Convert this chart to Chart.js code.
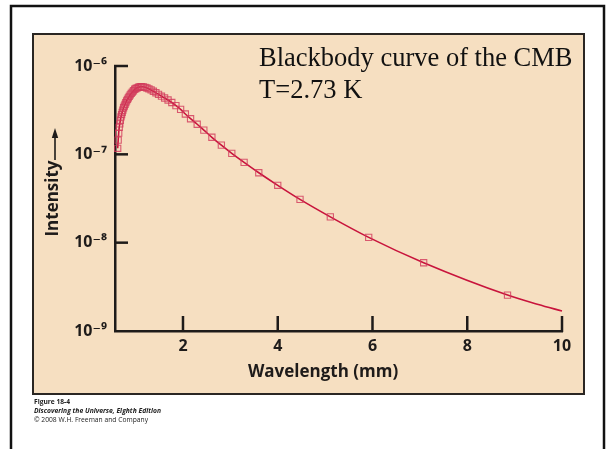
<!DOCTYPE html>
<html><head><meta charset="utf-8">
<script src="https://cdn.jsdelivr.net/npm/chart.js@4.4.1/dist/chart.umd.min.js"></script>
<style>html,body{margin:0;padding:0;background:#fff;}canvas{display:block;}</style>
</head><body>
<canvas id="c" width="608" height="449"></canvas>
<script>
// Wavelength (mm) of each measured point (square markers)
const markerWavelength = [
  0.622, 0.632, 0.643, 0.654, 0.666, 0.678, 0.691, 0.704, 0.717, 0.731,
  0.746, 0.761, 0.777, 0.793, 0.810, 0.828, 0.847, 0.866, 0.887, 0.908,
  0.931, 0.955, 0.980, 1.006, 1.034, 1.063, 1.094, 1.127, 1.162, 1.199,
  1.239, 1.281, 1.327, 1.375, 1.428, 1.484, 1.546, 1.612, 1.685, 1.764,
  1.851, 1.95, 2.05, 2.16, 2.30, 2.44, 2.61, 2.81, 3.03, 3.29,
  3.60, 4.00, 4.47, 5.11, 5.92, 7.08, 8.85
];
// Intensity read at each marker
const markerIntensity = [
  1.17e-7, 1.45e-7, 1.74e-7, 2.02e-7, 2.21e-7, 2.43e-7, 2.65e-7, 2.82e-7, 2.99e-7, 3.17e-7,
  3.37e-7, 3.52e-7, 3.68e-7, 3.85e-7, 4.03e-7, 4.19e-7, 4.36e-7, 4.53e-7, 4.72e-7, 4.90e-7,
  5.07e-7, 5.25e-7, 5.45e-7, 5.56e-7, 5.66e-7, 5.75e-7, 5.82e-7, 5.83e-7, 5.81e-7, 5.74e-7,
  5.64e-7, 5.51e-7, 5.36e-7, 5.18e-7, 4.98e-7, 4.78e-7, 4.55e-7, 4.34e-7, 4.12e-7, 3.86e-7,
  3.56e-7, 3.23e-7, 2.86e-7, 2.53e-7, 2.19e-7, 1.88e-7, 1.56e-7, 1.27e-7, 1.026e-7, 8.11e-8,
  6.19e-8, 4.46e-8, 3.09e-8, 1.96e-8, 1.148e-8, 5.92e-9, 2.55e-9
];
// Continuation of the fitted curve beyond the last marker
const tailWavelength = [9.5, 10];
const tailIntensity = [2.0e-9, 1.68e-9];

const xTickValues = [2, 4, 6, 8, 10];
const yTickValues = [1e-9, 1e-8, 1e-7, 1e-6];
const yTickLabels = ['10\u207B\u2079', '10\u207B\u2078', '10\u207B\u2077', '10\u207B\u2076'];

const titleLines = ['Blackbody curve of the CMB', 'T=2.73 K'];
const captionLines = ['Figure 18-4', 'Discovering the Universe, Eighth Edition', '\u00A9 2008 W.H. Freeman and Company'];

const markerPoints = markerWavelength.map((x, i) => ({x: x, y: markerIntensity[i]}));
const linePoints = markerWavelength.concat(tailWavelength).map((x, i) => ({x: x, y: markerIntensity.concat(tailIntensity)[i]}));

const INK = '#1e1b1a';
const SANS = "'Open Sans', 'DejaVu Sans', sans-serif";

const decor = {
  id: 'decor',
  beforeDraw(chart) {
    const ctx = chart.ctx;
    ctx.save();
    ctx.fillStyle = '#ffffff';
    ctx.fillRect(0, 0, chart.width, chart.height);
    ctx.strokeStyle = '#111111';
    ctx.lineWidth = 2.5;
    ctx.strokeRect(11, 6, 593, 480);
    ctx.fillStyle = '#F6DFC1';
    ctx.fillRect(33, 34, 551, 360);
    ctx.strokeStyle = '#2a2623';
    ctx.lineWidth = 2;
    ctx.strokeRect(33, 34, 551, 360);
    ctx.restore();
  },
  afterDraw(chart) {
    const ctx = chart.ctx;
    const xs = chart.scales.x, ys = chart.scales.y;
    const area = chart.chartArea;
    ctx.save();
    ctx.strokeStyle = INK;
    ctx.lineWidth = 2.5;
    ctx.lineCap = 'butt';
    // inward ticks on x axis
    xs.ticks.forEach(t => {
      const px = xs.getPixelForValue(t.value);
      ctx.beginPath();
      ctx.moveTo(px, area.bottom + 1);
      ctx.lineTo(px, area.bottom - 15);
      ctx.stroke();
    });
    // inward ticks on y axis
    ys.ticks.forEach(t => {
      if (t.value <= yTickValues[0]) return;
      const py = ys.getPixelForValue(t.value);
      ctx.beginPath();
      ctx.moveTo(area.left - 1, py);
      ctx.lineTo(area.left + 13, py);
      ctx.stroke();
    });
    // arrow after "Intensity"
    ctx.lineWidth = 1.6;
    ctx.beginPath();
    ctx.moveTo(55, 160);
    ctx.lineTo(55, 136);
    ctx.stroke();
    ctx.fillStyle = INK;
    ctx.beginPath();
    ctx.moveTo(55, 128);
    ctx.lineTo(51.8, 138);
    ctx.lineTo(58.2, 138);
    ctx.closePath();
    ctx.fill();
    // title text in the panel
    ctx.fillStyle = '#111111';
    ctx.font = "26.5px 'Liberation Serif', 'Times New Roman', serif";
    ctx.textAlign = 'left';
    ctx.textBaseline = 'alphabetic';
    ctx.fillText(titleLines[0], 259, 66);
    ctx.fillText(titleLines[1], 259, 98);
    // caption
    ctx.fillStyle = '#222222';
    ctx.font = "bold 7.5px " + SANS;
    ctx.fillText(captionLines[0], 34, 404, 36);
    ctx.font = "italic bold 7.5px " + SANS;
    ctx.fillText(captionLines[1], 34, 413, 127);
    ctx.font = "7.5px " + SANS;
    ctx.fillText(captionLines[2], 34, 422, 114);
    ctx.restore();
  }
};

new Chart(document.getElementById('c'), {
  type: 'scatter',
  data: {
    datasets: [
      {
        label: 'data',
        data: markerPoints,
        showLine: false,
        pointStyle: 'rect',
        pointRadius: 4.4,
        pointBorderWidth: 1.1,
        pointBorderColor: 'rgba(210, 58, 92, 0.82)',
        pointBackgroundColor: 'rgba(0,0,0,0)',
        clip: false,
        order: 0
      },
      {
        label: 'curve',
        data: linePoints,
        showLine: true,
        borderColor: '#C8143C',
        borderWidth: 1.6,
        pointRadius: 0,
        cubicInterpolationMode: 'monotone',
        clip: false,
        order: 1
      }
    ]
  },
  options: {
    responsive: false,
    devicePixelRatio: 1,
    animation: false,
    layout: {padding: {top: 66, right: 46, bottom: 0, left: 0}},
    plugins: {legend: {display: false}, tooltip: {enabled: false}},
    scales: {
      x: {
        type: 'linear',
        min: 0.565,
        max: 10,
        afterBuildTicks(scale) { scale.ticks = xTickValues.map(v => ({value: v})); },
        afterFit(scale) { scale.height = 118; },
        grid: {display: false, drawTicks: false},
        border: {display: true, color: INK, width: 2.5},
        ticks: {
          color: INK,
          padding: 6,
          maxRotation: 0,
          font: {family: SANS, size: 16, weight: 'bold'},
          callback: v => String(v)
        },
        title: {
          display: true,
          text: 'Wavelength (mm)\u00A0\u00A0\u00A0\u00A0\u00A0\u00A0\u00A0',
          color: INK,
          font: {family: SANS, size: 17, weight: 'bold'},
          padding: {top: 0, bottom: 67}
        }
      },
      y: {
        type: 'logarithmic',
        min: 1e-9,
        max: 1e-6,
        afterBuildTicks(scale) { scale.ticks = yTickValues.map(v => ({value: v})); },
        afterFit(scale) { scale.width = 115; },
        grid: {display: false, drawTicks: false},
        border: {display: true, color: INK, width: 2.5},
        ticks: {
          color: INK,
          padding: 8,
          font: {family: SANS, size: 16, weight: 'bold'},
          callback: function(v) {
            const i = yTickValues.findIndex(t => Math.abs(Math.log10(t) - Math.log10(v)) < 1e-6);
            return i >= 0 ? yTickLabels[i] : '';
          }
        },
        title: {
          display: true,
          text: 'Intensity',
          color: INK,
          font: {family: SANS, size: 17, weight: 'bold'},
          padding: {top: 43, bottom: 0}
        }
      }
    }
  },
  plugins: [decor]
});
</script>
</body></html>
